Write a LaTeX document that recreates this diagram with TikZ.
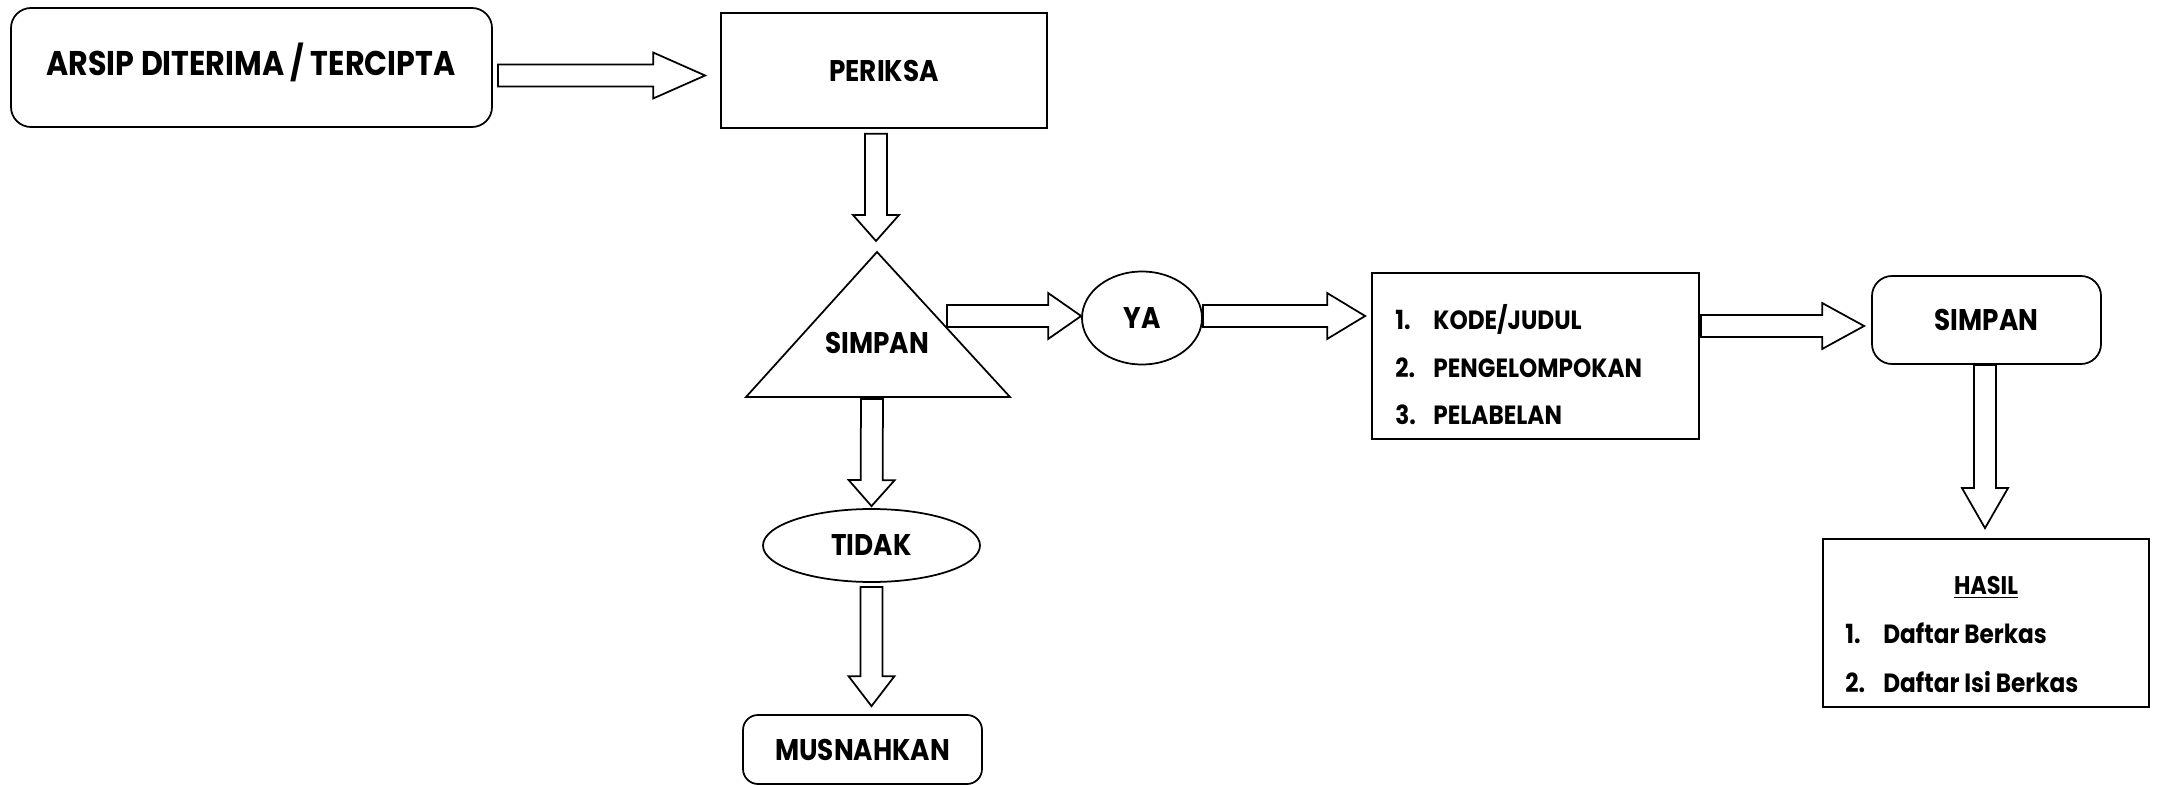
\documentclass[tikz,border=0pt]{standalone}
\usepackage{fontspec}
\setmainfont{Poppins}[FakeStretch=0.88]
\usetikzlibrary{positioning,calc,shapes.geometric}
\tikzset{
  flowline/.style={draw=black,line width=0.35mm},
  txt/.style={font=\fontsize{17}{20}\selectfont\bfseries,inner sep=0pt},
  sqbox/.style={flowline,rectangle,inner sep=0pt},
  rbox/.style={flowline,rectangle,rounded corners=4mm,inner sep=0pt},
  oval/.style={flowline,ellipse,inner sep=0pt},
}
% hollow block arrow: [head length]{start}{tip}
\newcommand{\blockarrow}[3][8mm]{%
  \coordinate (hb) at ($(#3)!#1!(#2)$);
  \draw[flowline,fill=white] ($(#2)!2.2mm!90:(#3)$) -- ($(hb)!2.2mm!90:(#3)$)
    -- ($(hb)!4.6mm!90:(#3)$) -- (#3) -- ($(hb)!4.6mm!-90:(#3)$)
    -- ($(hb)!2.2mm!-90:(#3)$) -- ($(#2)!2.2mm!-90:(#3)$) -- cycle;}

\begin{document}
\begin{tikzpicture}[x=0.2mm,y=-0.2mm]
  \useasboundingbox (0,0) rectangle (2160,785);
  % Boxes
  \node[rbox,minimum width=96.2mm,minimum height=23.8mm] (arsip) at (251.5,67.5) {};
  \node[txt,font=\fontsize{19.5}{22}\selectfont\bfseries] (arsiptxt) at (251,62) {ARSIP DITERIMA / TERCIPTA};
  \node[sqbox,txt,minimum width=65.2mm,minimum height=23mm] (periksa) at (884,70.5) {PERIKSA};
  % Decision triangle
  \coordinate (triTop) at (877,252);
  \coordinate (triL) at (746,397);
  \coordinate (triR) at (1010,397);
  \draw[flowline] (triTop) -- (triR) -- (triL) -- cycle;
  \node[txt] (simpanA) at (877,343) {SIMPAN};
  \node[oval,txt,minimum width=24mm,minimum height=18.6mm] (ya) at (1142,318) {YA};
  \node[oval,txt,minimum width=43.4mm,minimum height=14.6mm] (tidak) at (871.5,545.5) {TIDAK};
  \node[rbox,txt,rounded corners=3mm,minimum width=47.8mm,minimum height=13.8mm] (musnah) at (862.5,749.5) {MUSNAHKAN};
  % Processing list
  \node[sqbox,minimum width=65.4mm,minimum height=33.2mm] (kode) at (1535.5,356) {};
  \node[txt,anchor=west,align=left,font=\fontsize{15}{27}\selectfont\bfseries] (kodelist) at (1395,365)
    {\makebox[7.6mm][l]{1.}KODE/JUDUL\\\makebox[7.6mm][l]{2.}PENGELOMPOKAN\\\makebox[7.6mm][l]{3.}PELABELAN};
  \node[rbox,txt,minimum width=45.8mm,minimum height=17.6mm] (simpanB) at (1986.5,320) {SIMPAN};
  % Result
  \node[sqbox,minimum width=65.2mm,minimum height=33.6mm] (hasil) at (1986,623) {};
  \node[txt,font=\fontsize{14.5}{20}\selectfont\bfseries] (hasiltitle) at (1986,587) {\underline{HASIL}};
  \node[txt,anchor=west,align=left,font=\fontsize{15}{28}\selectfont\bfseries] (hasillist) at (1845,658)
    {\makebox[7.6mm][l]{1.}Daftar Berkas\\\makebox[7.6mm][l]{2.}Daftar Isi Berkas};
  % Arrow ends
  \coordinate (a1s) at ($(arsip.east)+(5,8)$);
  \coordinate (a1e) at ($(periksa.west)+(-15,5)$);
  \coordinate (a2s) at ($(periksa.south)+(-8,5)$);
  \coordinate (a2e) at ($(triTop)+(-1,-11)$);
  \coordinate (a3s) at (947,316);
  \coordinate (a3e) at ($(ya.west)+(0,-2)$);
  \coordinate (a4s) at ($(ya.east)+(0,-2)$);
  \coordinate (a4e) at ($(kode.west)+(-6,-40)$);
  \coordinate (a5s) at ($(kode.east)+(1,-30)$);
  \coordinate (a5e) at ($(simpanB.west)+(-7,6)$);
  \coordinate (a6s) at ($(simpanB.south)+(-1.5,0)$);
  \coordinate (a6e) at ($(hasil.north)+(-1,-10)$);
  \coordinate (a7s) at ($(triL)!0.5!(triR)+(-6,2)$);
  \coordinate (a7e) at ($(tidak.north)+(0,-2)$);
  \coordinate (a8s) at ($(tidak.south)+(0,4)$);
  \coordinate (a8e) at ($(musnah.north)+(9,-8)$);
  % Connectors
  \blockarrow[10.4mm]{a1s}{a1e}
  \blockarrow[5.2mm]{a2s}{a2e}
  \blockarrow[6.6mm]{a3s}{a3e}
  \blockarrow[7.6mm]{a4s}{a4e}
  \blockarrow[8.4mm]{a5s}{a5e}
  \blockarrow[8mm]{a6s}{a6e}
  \blockarrow[5.2mm]{a7s}{a7e}
  \blockarrow[6mm]{a8s}{a8e}
\end{tikzpicture}
\end{document}
